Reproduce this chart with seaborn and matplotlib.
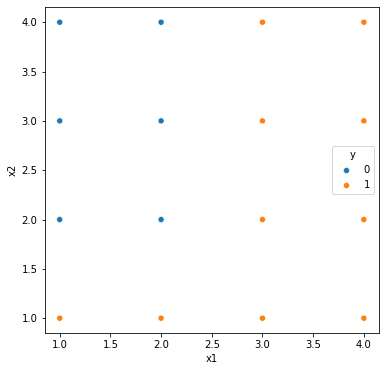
import pandas as pd
import matplotlib
matplotlib.use("Agg")
import matplotlib.pyplot as plt
import seaborn as sns

# grid of points and their class labels
x1 = [1, 1, 1, 1, 2, 2, 2, 2, 3, 3, 3, 3, 4, 4, 4, 4]
x2 = [1, 2, 3, 4, 1, 2, 3, 4, 1, 2, 3, 4, 1, 2, 3, 4]
y = [1, 0, 0, 0, 1, 0, 0, 0, 1, 1, 1, 1, 1, 1, 1, 1]

df = pd.DataFrame({"x1": x1, "x2": x2, "y": y})

fig, ax = plt.subplots(figsize=(386 / 72, 371 / 72), dpi=72)
fig.subplots_adjust(left=0.1153, right=0.982, bottom=0.1024, top=0.98)
sns.scatterplot(data=df, x="x1", y="x2", hue="y", palette=["#1f77b4", "#ff7f0e"], ax=ax)
ax.legend(title="y", loc="center right")

plt.savefig("out.png", dpi=72, facecolor="white")
